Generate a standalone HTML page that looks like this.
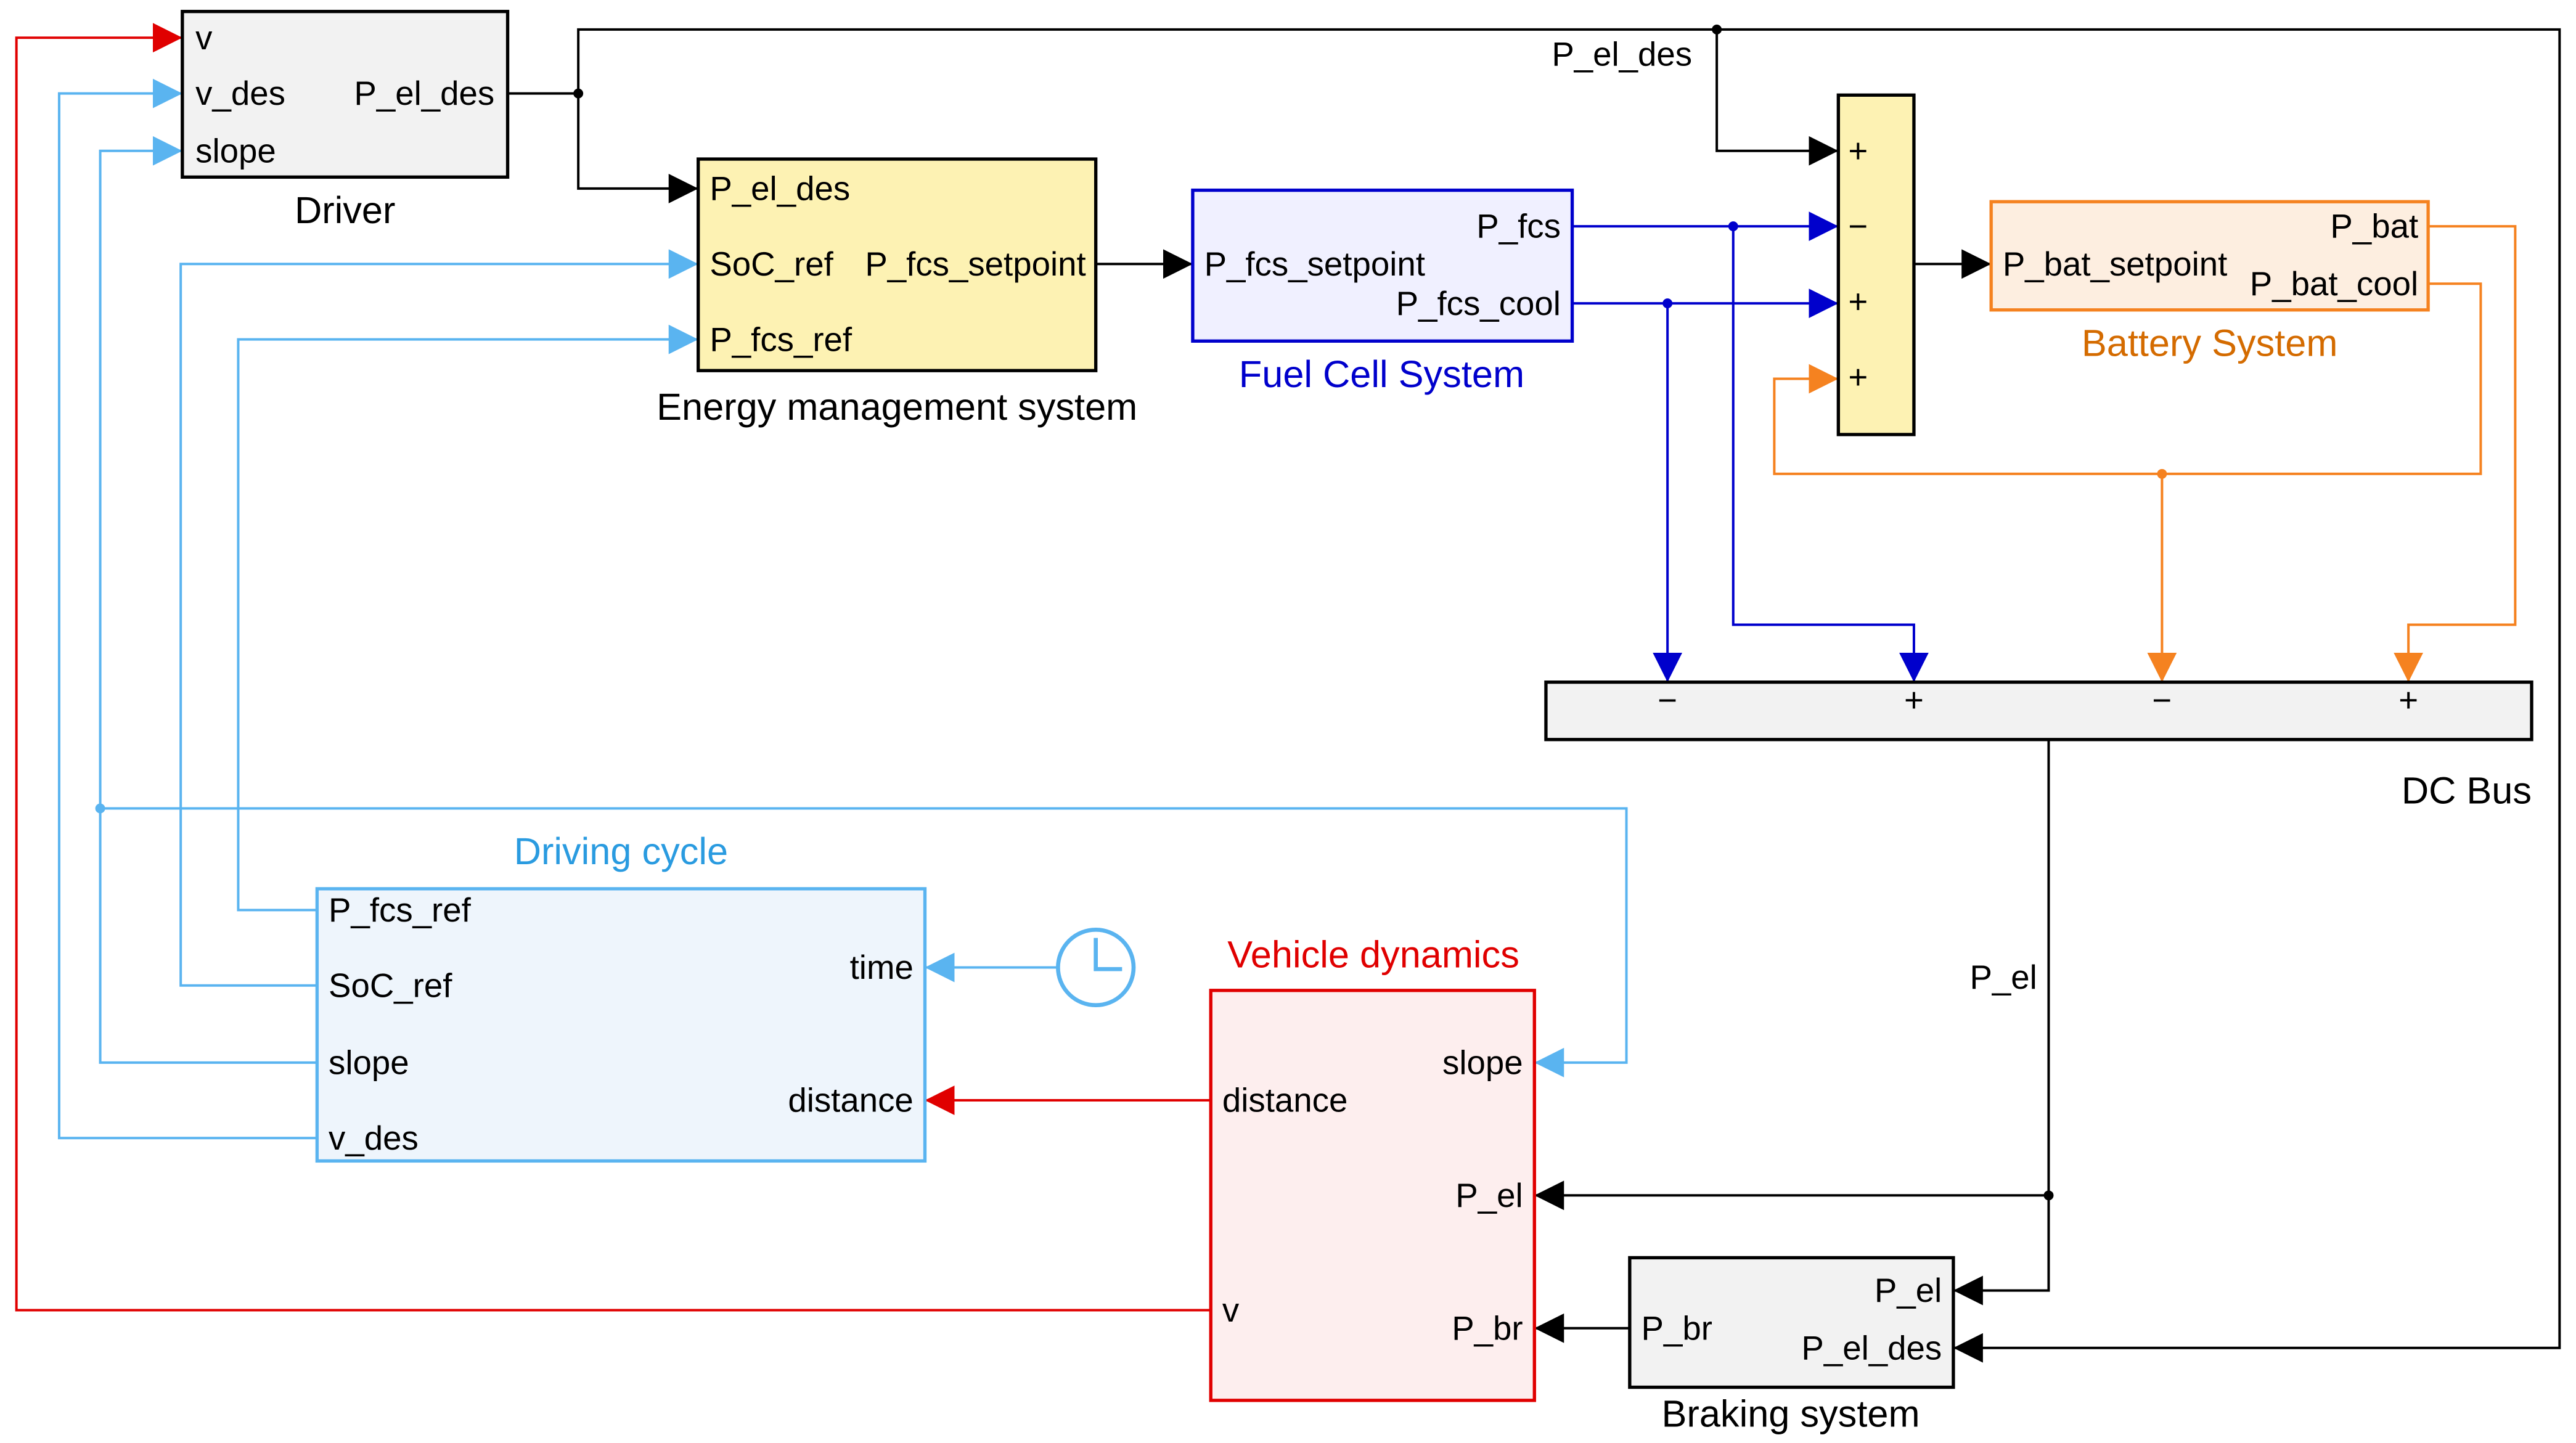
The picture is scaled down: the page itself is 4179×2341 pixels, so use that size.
<!DOCTYPE html>
<html><head><meta charset="utf-8"><style>
html,body{margin:0;padding:0;background:#fff}
svg{display:block}
text{font-family:"Liberation Sans",Arial,sans-serif;font-size:20.5px;fill:#000}
text.c{font-size:23px}
</style></head><body>
<svg width="4179" height="2341" viewBox="0 0 1568 880" preserveAspectRatio="none" xmlns="http://www.w3.org/2000/svg">
<defs>
<marker id="ak" markerUnits="userSpaceOnUse" markerWidth="20" markerHeight="18" refX="18" refY="9" orient="auto"><path d="M0,0 L18,9 L0,18 z" fill="#000"/></marker>
<marker id="ab" markerUnits="userSpaceOnUse" markerWidth="20" markerHeight="18" refX="18" refY="9" orient="auto"><path d="M0,0 L18,9 L0,18 z" fill="#0000cc"/></marker>
<marker id="al" markerUnits="userSpaceOnUse" markerWidth="20" markerHeight="18" refX="18" refY="9" orient="auto"><path d="M0,0 L18,9 L0,18 z" fill="#5ab4f0"/></marker>
<marker id="ar" markerUnits="userSpaceOnUse" markerWidth="20" markerHeight="18" refX="18" refY="9" orient="auto"><path d="M0,0 L18,9 L0,18 z" fill="#e00000"/></marker>
<marker id="ao" markerUnits="userSpaceOnUse" markerWidth="20" markerHeight="18" refX="18" refY="9" orient="auto"><path d="M0,0 L18,9 L0,18 z" fill="#f58220"/></marker>
</defs>
<g fill="none" stroke-width="1.5">
<polyline points="737,799 10,799 10,23 111,23" stroke="#e00000" marker-end="url(#ar)"/>
<polyline points="737,671 563,671" stroke="#e00000" marker-end="url(#ar)"/>
<g stroke="#5ab4f0">
<polyline points="193,694 36,694 36,57 111,57" marker-end="url(#al)"/>
<polyline points="193,648 61,648 61,92 111,92" marker-end="url(#al)"/>
<polyline points="61,493 990,493 990,648 934,648" marker-end="url(#al)"/>
<polyline points="193,601 110,601 110,161 425,161" marker-end="url(#al)"/>
<polyline points="193,555 145,555 145,207 425,207" marker-end="url(#al)"/>
<polyline points="644,590 563,590" marker-end="url(#al)"/>
</g>
<g stroke="#000">
<polyline points="309,57 352,57 352,115 425,115" marker-end="url(#ak)"/>
<polyline points="352,57 352,18 1558,18 1558,822 1189,822" marker-end="url(#ak)"/>
<polyline points="1045,18 1045,92 1119,92" marker-end="url(#ak)"/>
<polyline points="667,161 726,161" marker-end="url(#ak)"/>
<polyline points="1165,161 1212,161" marker-end="url(#ak)"/>
<polyline points="1247,451 1247,787 1189,787" marker-end="url(#ak)"/>
<polyline points="1247,729 934,729" marker-end="url(#ak)"/>
<polyline points="992,810 934,810" marker-end="url(#ak)"/>
</g>
<g stroke="#0000cc">
<polyline points="957,138 1119,138" marker-end="url(#ab)"/>
<polyline points="1055,138 1055,381 1165,381 1165,416" marker-end="url(#ab)"/>
<polyline points="957,185 1119,185" marker-end="url(#ab)"/>
<polyline points="1015,185 1015,416" marker-end="url(#ab)"/>
</g>
<g stroke="#f58220">
<polyline points="1478,138 1531,138 1531,381 1466,381 1466,416" marker-end="url(#ao)"/>
<polyline points="1478,173 1510,173 1510,289 1080,289 1080,231 1119,231" marker-end="url(#ao)"/>
<polyline points="1316,289 1316,416" marker-end="url(#ao)"/>
</g>
</g>
<circle cx="352" cy="57" r="3" fill="#000"/>
<circle cx="1045" cy="18" r="3" fill="#000"/>
<circle cx="1247" cy="729" r="3" fill="#000"/>
<circle cx="1055" cy="138" r="3" fill="#0000cc"/>
<circle cx="1015" cy="185" r="3" fill="#0000cc"/>
<circle cx="1316" cy="289" r="3" fill="#f58220"/>
<circle cx="61" cy="493" r="3" fill="#5ab4f0"/>

<rect x="111" y="7" width="198" height="101" fill="#f2f2f2" stroke="#000" stroke-width="2"/>
<text x="119" y="30">v</text><text x="119" y="64">v_des</text><text x="119" y="99">slope</text>
<text x="301" y="64" text-anchor="end">P_el_des</text>
<text class="c" x="210" y="136" text-anchor="middle">Driver</text>

<rect x="425" y="97" width="242" height="129" fill="#fdf2b3" stroke="#000" stroke-width="2"/>
<text x="432" y="122">P_el_des</text><text x="432" y="168">SoC_ref</text><text x="432" y="214">P_fcs_ref</text>
<text x="661" y="168" text-anchor="end">P_fcs_setpoint</text>
<text class="c" x="546" y="256" text-anchor="middle">Energy management system</text>

<rect x="726" y="116" width="231" height="92" fill="#f0f0ff" stroke="#0000cc" stroke-width="2"/>
<text x="950" y="145" text-anchor="end">P_fcs</text><text x="733" y="168">P_fcs_setpoint</text>
<text x="950" y="192" text-anchor="end">P_fcs_cool</text>
<text class="c" x="841" y="236" text-anchor="middle" style="fill:#0000cc">Fuel Cell System</text>

<rect x="1119" y="58" width="46" height="207" fill="#fdf2b3" stroke="#000" stroke-width="2"/>
<text x="1125" y="99">+</text><text x="1125" y="145">−</text><text x="1125" y="191">+</text><text x="1125" y="237">+</text>

<rect x="1212" y="123" width="266" height="66" fill="#fdeee0" stroke="#f58220" stroke-width="2"/>
<text x="1472" y="145" text-anchor="end">P_bat</text><text x="1219" y="168">P_bat_setpoint</text>
<text x="1472" y="180" text-anchor="end">P_bat_cool</text>
<text class="c" x="1345" y="217" text-anchor="middle" style="fill:#d46b00">Battery System</text>

<rect x="941" y="416" width="600" height="35" fill="#f2f2f2" stroke="#000" stroke-width="2"/>
<text x="1015" y="434" text-anchor="middle">−</text><text x="1165" y="434" text-anchor="middle">+</text>
<text x="1316" y="434" text-anchor="middle">−</text><text x="1466" y="434" text-anchor="middle">+</text>
<text class="c" x="1541" y="490" text-anchor="end">DC Bus</text>
<text x="1030" y="40" text-anchor="end">P_el_des</text>
<text x="1240" y="603" text-anchor="end">P_el</text>

<rect x="193" y="542" width="370" height="166" fill="#eef5fc" stroke="#5ab4f0" stroke-width="2"/>
<text class="c" x="378" y="527" text-anchor="middle" style="fill:#2a9be0">Driving cycle</text>
<text x="200" y="562">P_fcs_ref</text><text x="200" y="608">SoC_ref</text><text x="200" y="655">slope</text><text x="200" y="701">v_des</text>
<text x="556" y="597" text-anchor="end">time</text><text x="556" y="678" text-anchor="end">distance</text>

<circle cx="667" cy="590" r="23" fill="#fff" stroke="#5ab4f0" stroke-width="2.5"/>
<polyline points="667,572 667,591 683,591" fill="none" stroke="#5ab4f0" stroke-width="2.5"/>

<rect x="737" y="604" width="197" height="250" fill="#fdeeee" stroke="#e00000" stroke-width="2"/>
<text class="c" x="836" y="590" text-anchor="middle" style="fill:#e00000">Vehicle dynamics</text>
<text x="744" y="678">distance</text><text x="744" y="806">v</text>
<text x="927" y="655" text-anchor="end">slope</text><text x="927" y="736" text-anchor="end">P_el</text><text x="927" y="817" text-anchor="end">P_br</text>

<rect x="992" y="767" width="197" height="79" fill="#f2f2f2" stroke="#000" stroke-width="2"/>
<text x="999" y="817">P_br</text><text x="1182" y="794" text-anchor="end">P_el</text><text x="1182" y="829" text-anchor="end">P_el_des</text>
<text class="c" x="1090" y="870" text-anchor="middle">Braking system</text>
</svg>
</body></html>
